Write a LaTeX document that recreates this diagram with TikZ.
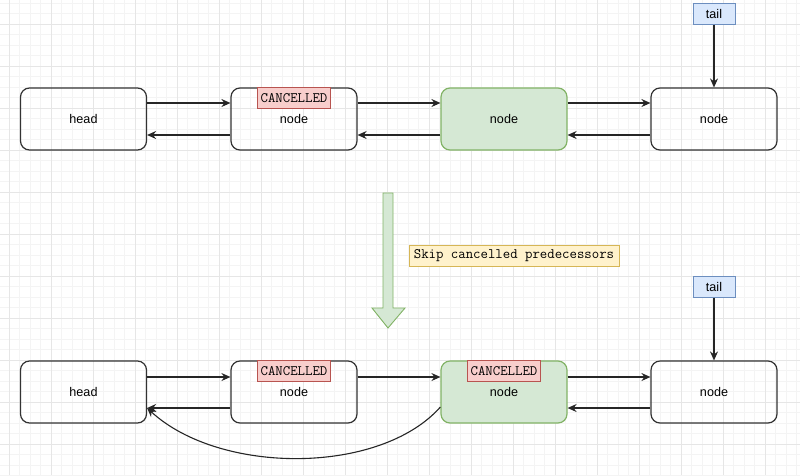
\documentclass[tikz,border=0pt]{standalone}
\usepackage{fontspec}
\setmainfont{Liberation Sans}
\usetikzlibrary{arrows.meta}
\newcommand\cnl{\codetext CANCELLED}
\newcommand\codetext{\ttfamily\fontsize{14.4}{16}\selectfont}

\definecolor{redfill}{HTML}{F8CECC}
\definecolor{redline}{HTML}{B85450}
\definecolor{greenfill}{HTML}{D5E8D4}
\definecolor{greenline}{HTML}{82B366}
\definecolor{bluefill}{HTML}{DAE8FC}
\definecolor{blueline}{HTML}{6C8EBF}
\definecolor{yellowfill}{HTML}{FFF2CC}
\definecolor{yellowline}{HTML}{D6B656}
\definecolor{gridminor}{HTML}{F4F4F4}
\definecolor{gridmajor}{HTML}{E6E6E6}

\tikzset{
  listnode/.style={draw=black!80, line width=1.2pt, rounded corners=9pt,
    minimum width=126pt, minimum height=62pt, font=\fontsize{12.6}{15}\selectfont},
  goodnode/.style={listnode, draw=greenline, fill=greenfill},
  tag/.style={draw, line width=0.9pt, inner sep=0pt, minimum height=21pt,
    font=\fontsize{12.6}{15}\selectfont},
  cancelbox/.style={tag, draw=redline, fill=redfill, minimum width=73pt},
  tailbox/.style={tag, draw=blueline, fill=bluefill, minimum width=42pt},
  notebox/.style={tag, draw=yellowline, fill=yellowfill, minimum width=210pt},
  link/.style={line width=1.1pt, draw=black!85, -{Stealth[length=9pt,width=8pt,inset=3pt]}}
}

\begin{document}
\begin{tikzpicture}[x=1pt,y=-1pt]
\useasboundingbox (0,0) rectangle (800,475);
\fill[white] (0,0) rectangle (800,475);

% background grid
\foreach \i in {0,...,76}
  \draw[gridminor, line width=0.6pt] ({-1.5+10.5*\i},0) -- ++(0,475);
\foreach \j in {0,...,45}
  \draw[gridminor, line width=0.6pt] (0,{3+10.5*\j}) -- ++(800,0);
\foreach \i in {0,...,19}
  \draw[gridmajor, line width=0.6pt] ({9+42*\i},0) -- ++(0,475);
\foreach \j in {0,...,11}
  \draw[gridmajor, line width=0.6pt] (0,{24+42*\j}) -- ++(800,0);

% before
\node[listnode] (head1) at (83.5,119) {head};
\node[listnode] (n1) at (294,119) {node};
\node[goodnode] (g1) at (504,119) {node};
\node[listnode] (t1) at (714,119) {node};
\node[cancelbox, anchor=north] (c1) at (n1.north) {\cnl};
\node[tailbox] (tail1) at (714,14) {tail};

\draw[link] ([yshift=16pt]head1.east) -- ([yshift=16pt]n1.west);
\draw[link] ([yshift=16pt]n1.east) -- ([yshift=16pt]g1.west);
\draw[link] ([yshift=16pt]g1.east) -- ([yshift=16pt]t1.west);
\draw[link] ([yshift=-16pt]n1.west) -- ([yshift=-16pt]head1.east);
\draw[link] ([yshift=-16pt]g1.west) -- ([yshift=-16pt]n1.east);
\draw[link] ([yshift=-16pt]t1.west) -- ([yshift=-16pt]g1.east);
\draw[link] (tail1) -- (t1);

% step arrow
\draw[greenline, fill=greenfill, line width=0.9pt]
  (383,193) -- (393,193) -- (393,308) -- (405,308) -- (388,328)
  -- (372,308) -- (383,308) -- cycle;
\node[notebox] (note) at (514,256) {\codetext Skip cancelled predecessors};

% after
\node[listnode] (head2) at (83.5,392) {head};
\node[listnode] (n2) at (294,392) {node};
\node[goodnode] (g2) at (504,392) {node};
\node[listnode] (t2) at (714,392) {node};
\node[cancelbox, anchor=north] (c2) at (n2.north) {\cnl};
\node[cancelbox, anchor=north] (c3) at (g2.north) {\cnl};
\node[tailbox] (tail2) at (714,287) {tail};

\draw[link] ([yshift=15pt]head2.east) -- ([yshift=15pt]n2.west);
\draw[link] ([yshift=15pt]n2.east) -- ([yshift=15pt]g2.west);
\draw[link] ([yshift=15pt]g2.east) -- ([yshift=15pt]t2.west);
\draw[link] ([yshift=-16pt]n2.west) -- ([yshift=-16pt]head2.east);
\draw[link] ([yshift=-16pt]t2.west) -- ([yshift=-16pt]g2.east);
\draw[link] ([yshift=-15pt]g2.west) .. controls (380,475) and (220,475) .. ([yshift=-16pt]head2.east);
\draw[link] (tail2) -- (t2);
\end{tikzpicture}
\end{document}
